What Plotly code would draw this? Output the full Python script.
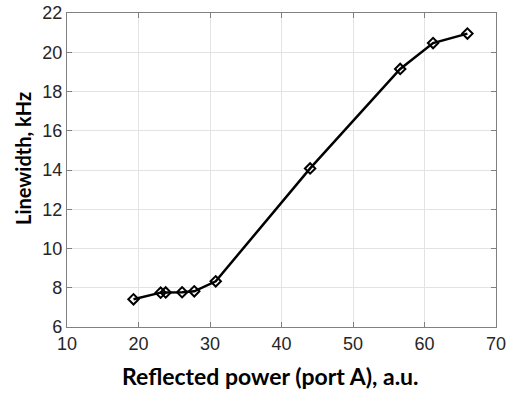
import plotly.graph_objects as go

power = [19.3, 23.1, 23.8, 26.1, 27.8, 30.8, 44.0, 56.6, 61.2, 66.0]
linewidth = [7.41, 7.75, 7.76, 7.77, 7.82, 8.33, 14.08, 19.15, 20.47, 20.95]
x_ticks = [10, 20, 30, 40, 50, 60, 70]
y_ticks = [6, 8, 10, 12, 14, 16, 18, 20, 22]

fig = go.Figure()
fig.add_trace(go.Scatter(
    x=power, y=linewidth, mode="lines+markers",
    line=dict(color="black", width=2.5),
    marker=dict(symbol="diamond-open", size=8, color="black", line=dict(width=2)),
    showlegend=False, cliponaxis=False,
))

axis_common = dict(
    showgrid=True, gridcolor="#e3e3e3", gridwidth=1,
    showline=True, linecolor="#808080", linewidth=1.2, mirror="ticks",
    ticks="inside", ticklen=5, tickcolor="#808080",
    tickfont=dict(family="Liberation Sans, Arial", size=18, color="#262626"),
    zeroline=False, automargin=False, ticklabeloverflow="allow",
)
fig.update_xaxes(range=[10, 70], tickvals=x_ticks, **axis_common)
fig.update_yaxes(range=[6, 22], tickvals=y_ticks, **axis_common)

title_font = dict(family="Lato, Open Sans", color="black", weight="bold")
fig.add_annotation(text="Reflected power (port A), a.u.", xref="paper", yref="paper",
                   x=(270 - 67) / (496 - 67), y=-(376 - 327) / (327 - 13),
                   showarrow=False, xanchor="center", yanchor="middle",
                   font=dict(size=23, **title_font))
fig.add_annotation(text="Linewidth, kHz", xref="paper", yref="paper",
                   x=-(67 - 23) / (496 - 67), y=(327 - 159) / (327 - 13),
                   showarrow=False, xanchor="center", yanchor="middle", textangle=-90,
                   font=dict(size=20, **title_font))
fig.update_layout(
    width=506, height=393,
    margin=dict(l=67, r=10, t=13, b=66),
    paper_bgcolor="white", plot_bgcolor="white",
)
fig.write_html("out.html", config={"displayModeBar": False},
               post_script="document.body.style.margin='0';")
